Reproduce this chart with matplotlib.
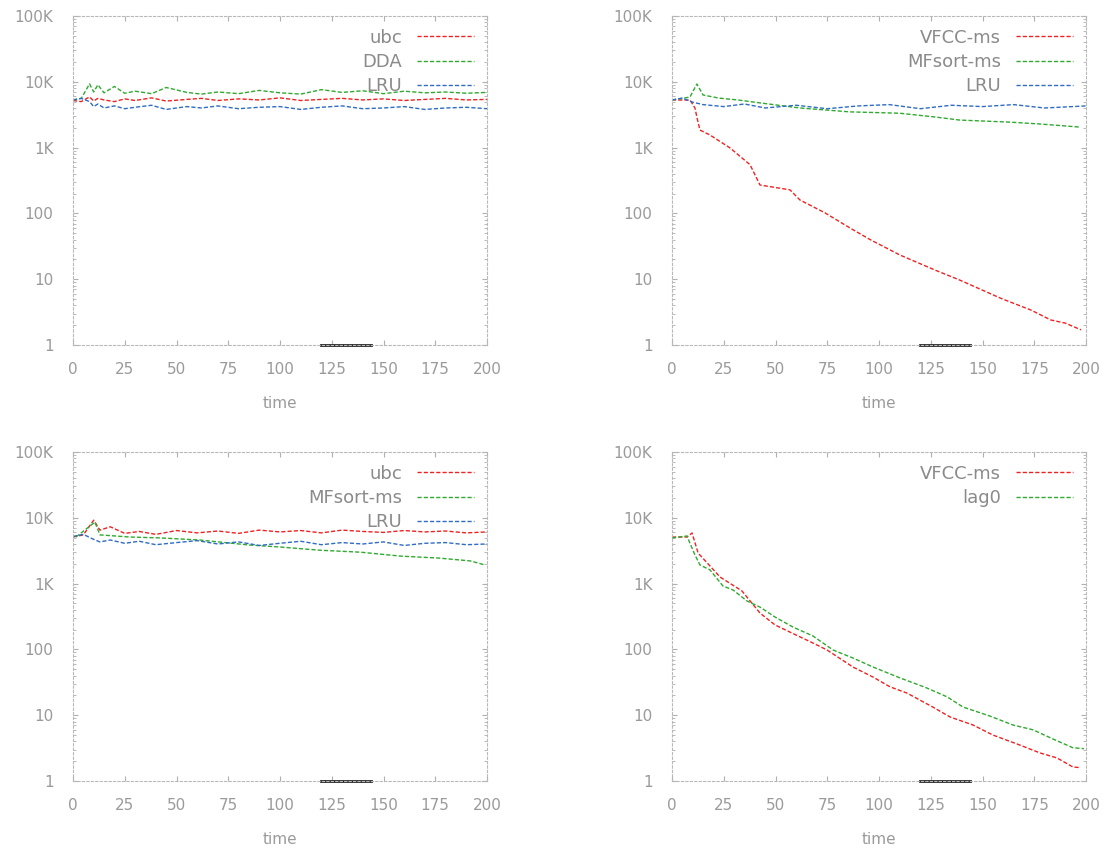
import matplotlib
matplotlib.use("Agg")
import matplotlib.pyplot as plt
from matplotlib.ticker import FixedLocator, NullFormatter, LogLocator

# ---------------- data ----------------
x_ticks = [0, 25, 50, 75, 100, 125, 150, 175, 200]
y_ticks = [1, 10, 100, 1000, 10000, 100000]
y_tick_labels = ["1", "10", "100", "1K", "10K", "100K"]
x_label = "time"

# panel 1 (top-left)
p1_x = [0, 4, 8, 10, 12, 15, 20, 25, 30, 38, 45, 55, 62, 70, 80, 90, 100, 110, 120,
        130, 140, 150, 160, 170, 180, 190, 200]
p1_green = [5300, 5600, 9300, 7000, 9000, 6800, 8500, 6700, 7200, 6600, 8200, 6900, 6500,
            7000, 6600, 7400, 6800, 6500, 7600, 6900, 7300, 6600, 7200, 6800, 7000, 6700, 6900]
p1_red = [5200, 5000, 5900, 5100, 5600, 5300, 5000, 5500, 5200, 5700, 5100, 5400, 5600,
          5200, 5500, 5300, 5700, 5200, 5400, 5600, 5300, 5500, 5200, 5400, 5600, 5300, 5400]
p1_blue = [5300, 5600, 5000, 4200, 4600, 4000, 4300, 3900, 4100, 4400, 3800, 4200, 4000,
           4300, 3900, 4100, 4200, 3800, 4100, 4300, 3900, 4000, 4200, 3800, 4000, 4100, 3900]
p1_labels = ["ubc", "DDA", "LRU"]

# panel 2 (top-right)
p2_red_x = [0, 8.7, 11.1, 12.1, 13.5, 18.4, 28, 37.7, 42.5, 57, 61.8, 73.9, 86, 95.7,
            110, 127, 139, 159, 173.4, 183, 190, 197.6]
p2_red = [5300, 5280, 4000, 2820, 1850, 1550, 990, 550, 270, 228, 160, 102, 60, 40,
          23.4, 13.8, 9.7, 5.1, 3.4, 2.4, 2.15, 1.7]
p2_green_x = [0, 8.7, 12, 15, 22.7, 32, 42.5, 61.8, 86, 110, 127, 139, 163, 178, 197]
p2_green = [5290, 5870, 9260, 6300, 5650, 5290, 4780, 4000, 3490, 3330, 2920, 2620, 2440,
            2280, 2050]
p2_blue_x = [0, 5, 10, 15, 25, 35, 45, 60, 75, 90, 105, 120, 135, 150, 165, 180, 200]
p2_blue = [5300, 5650, 4900, 4500, 4200, 4600, 4000, 4400, 3900, 4300, 4500, 3900, 4400,
           4200, 4500, 4000, 4300]
p2_labels = ["VFCC-ms", "MFsort-ms", "LRU"]

# panel 3 (bottom-left)
p3_x = [0, 5, 10, 13, 18, 25, 32, 40, 50, 60, 70, 80, 90, 100, 110, 120, 130, 140, 150,
        160, 170, 180, 190, 200]
p3_red = [5100, 5500, 9200, 6500, 7300, 5800, 6200, 5600, 6400, 5900, 6300, 5800, 6500,
          6100, 6400, 5900, 6500, 6200, 6000, 6400, 6100, 6300, 5900, 6100]
p3_green_x = [1.4, 10.6, 13, 27.5, 42, 61, 85.5, 100, 119, 139, 158, 177, 192, 199]
p3_green = [5100, 8600, 5500, 5100, 4950, 4600, 3850, 3600, 3220, 3000, 2620, 2440, 2210,
            1920]
p3_blue = [5200, 5600, 4700, 4300, 4600, 4100, 4400, 3900, 4200, 4500, 4000, 4300, 3800,
           4100, 4400, 3900, 4200, 4000, 4300, 3800, 4100, 4200, 3900, 4000]
p3_labels = ["ubc", "MFsort-ms", "LRU"]

# panel 4 (bottom-right)
p4_red_x = [0, 7.2, 9.7, 12.6, 23.2, 33.8, 42.5, 49.8, 60.9, 68.1, 74.9, 87.4, 97.1, 105.3,
            113.5, 126, 134.3, 145.4, 155, 166.7, 177.8, 186, 193.7, 197]
p4_red = [5100, 5100, 5870, 2920, 1260, 773, 357, 235, 160, 125, 98, 54, 38, 27, 21.7,
          13.3, 9.4, 7.1, 5.0, 3.65, 2.67, 2.24, 1.63, 1.6]
p4_green_x = [0, 7.2, 11.1, 13.5, 18.4, 24.6, 29.5, 36.2, 42.5, 49.8, 58.5, 68.1, 77.8,
              87.4, 97.1, 110, 123, 132.9, 140.6, 153.6, 164.7, 174.4, 184, 193.7, 199]
p4_green = [4950, 5290, 2720, 1920, 1610, 920, 800, 545, 440, 310, 218, 160, 98, 74, 54,
            37, 26, 19, 13.3, 9.7, 7.1, 6.0, 4.35, 3.2, 3.1]
p4_labels = ["VFCC-ms", "lag0"]

RED = "#ee2222"
GREEN = "#2eaa2e"
BLUE = "#2f6cc4"
GRAY = "#9a9a9a"

fig = plt.figure(figsize=(11.04, 8.52), dpi=100)

W, H = 1104, 852
def make_ax(left, top, right, bottom):
    return fig.add_axes([left / W, 1 - bottom / H, (right - left) / W, (bottom - top) / H])

axes = [make_ax(73, 16, 487, 345), make_ax(672, 16, 1086, 345),
        make_ax(73, 452, 487, 781), make_ax(672, 452, 1086, 781)]

ls = (0, (3, 1.5))

def style(ax):
    ax.set_yscale("log")
    ax.set_xlim(0, 200)
    ax.set_ylim(1, 100000)
    ax.yaxis.set_major_locator(FixedLocator(y_ticks))
    ax.set_yticklabels(y_tick_labels)
    ax.yaxis.set_minor_locator(LogLocator(base=10, subs=range(2, 10)))
    ax.yaxis.set_minor_formatter(NullFormatter())
    ax.set_xticks(x_ticks)
    ax.set_xticklabels([str(v) for v in x_ticks])
    for s in ax.spines.values():
        s.set_color("#b8b8b8")
        s.set_linewidth(0.8)
        s.set_linestyle((0, (2, 2)))
    ax.tick_params(which="both", direction="in", top=True, right=True, colors="#b0b0b0",
                   labelcolor=GRAY, labelsize=11)
    ax.tick_params(axis="y", pad=14)
    ax.tick_params(axis="x", pad=12)
    ax.set_xlabel(x_label, color=GRAY, fontsize=11, labelpad=14)
    ax.plot([0.6, 0.72], [0, 0], transform=ax.transAxes, color="#222222", lw=2,
            clip_on=False)

def leg(ax):
    ax.legend(loc="upper right", frameon=False, markerfirst=False, fontsize=13,
              handlelength=3.2, labelspacing=0.35, borderaxespad=0.3,
              labelcolor="#8a8a8a")

kw = dict(ls=ls, lw=1.0)

ax = axes[0]
ax.plot(p1_x, p1_red, color=RED, label=p1_labels[0], **kw)
ax.plot(p1_x, p1_green, color=GREEN, label=p1_labels[1], **kw)
ax.plot(p1_x, p1_blue, color=BLUE, label=p1_labels[2], **kw)
style(ax); leg(ax)

ax = axes[1]
ax.plot(p2_red_x, p2_red, color=RED, label=p2_labels[0], **kw)
ax.plot(p2_green_x, p2_green, color=GREEN, label=p2_labels[1], **kw)
ax.plot(p2_blue_x, p2_blue, color=BLUE, label=p2_labels[2], **kw)
style(ax); leg(ax)

ax = axes[2]
ax.plot(p3_x, p3_red, color=RED, label=p3_labels[0], **kw)
ax.plot(p3_green_x, p3_green, color=GREEN, label=p3_labels[1], **kw)
ax.plot(p3_x, p3_blue, color=BLUE, label=p3_labels[2], **kw)
style(ax); leg(ax)

ax = axes[3]
ax.plot(p4_red_x, p4_red, color=RED, label=p4_labels[0], **kw)
ax.plot(p4_green_x, p4_green, color=GREEN, label=p4_labels[1], **kw)
style(ax); leg(ax)

fig.savefig("out.png", dpi=100)
